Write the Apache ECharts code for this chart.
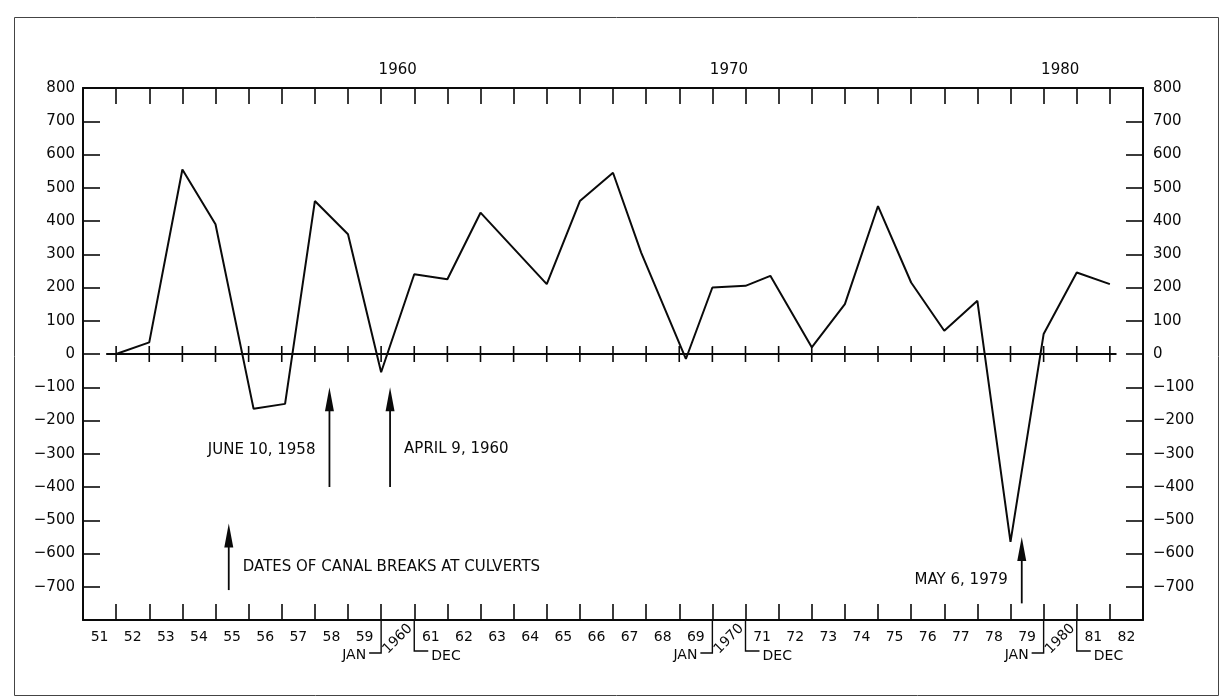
<!DOCTYPE html>
<html><head><meta charset="utf-8">
<script src="https://cdn.jsdelivr.net/npm/echarts@6/dist/echarts.min.js"></script>
<style>html,body{margin:0;padding:0;background:#fff}#c{width:1221px;height:700px}</style>
</head><body><div id="c"></div>
<script>
// ---- data ----
const yearLabels = ['51','52','53','54','55','56','57','58','59','1960','61','62','63','64','65','66','67','68','69','1970','71','72','73','74','75','76','77','78','79','1980','81','82'];
const pointYears = [1952, 1953, 1954, 1955, 1956.15, 1957.1, 1958, 1959, 1960, 1961, 1962, 1963, 1965, 1966, 1967, 1967.85, 1969.2, 1970, 1971, 1971.75, 1973, 1974, 1975, 1976, 1977, 1978, 1979, 1980, 1981, 1982];
const pointValues = [0, 35, 555, 390, -165, -150, 460, 360, -55, 240, 225, 425, 210, 460, 545, 305, -15, 200, 205, 235, 20, 150, 445, 215, 70, 160, -565, 60, 245, 210];
const zeroTickYears = [1952,1953,1954,1955,1956,1957,1958,1959,1960,1961,1962,1963,1964,1965,1966,1967,1968,1969,1970,1971,1972,1973,1974,1975,1976,1977,1978,1979,1980,1981,1982];
const zeroLineSpan = [1951.7, 1982.2];
const arrowDates = [1955.4, 1958.44, 1960.27, 1979.34];
const arrowBase = [-710, -400, -400, -750];
const arrowTip = [-510, -100, -100, -550];
const noteTexts = ['DATES OF CANAL BREAKS AT CULVERTS', 'JUNE 10, 1958', 'APRIL 9, 1960', 'MAY 6, 1979'];
const noteValues = [-640, -290, -285, -680];
const noteSides = ['right', 'left', 'right', 'left'];
const decadeYears = [1960, 1970, 1980];
const bracketLabels = ['JAN', 'DEC'];

const INK = '#0a0a0a';
const FONT = 'DejaVu Sans';
const chart = echarts.init(document.getElementById('c'), null, {renderer: 'canvas'});

const lineData = pointYears.map((y, i) => [y, pointValues[i]]);
const isDecade = s => s.length === 4;

const valueX = (pos) => ({
  type: 'value', position: pos, min: 1951, max: 1983, interval: 1,
  axisLine: {show: true, onZero: false, lineStyle: {color: INK, width: 2}},
  axisTick: {show: true, inside: true, length: 16, lineStyle: {color: INK, width: 1.6}},
  axisLabel: {show: false}, splitLine: {show: false}
});
const catX = (pos, fmt, size, margin) => ({
  type: 'category', position: pos, data: yearLabels, boundaryGap: true,
  axisLine: {show: false, onZero: false}, axisTick: {show: false},
  axisLabel: {show: true, interval: 0, formatter: fmt, color: INK, fontFamily: FONT, fontSize: size, margin: margin},
  splitLine: {show: false}
});
const valueY = (pos, margin) => ({
  type: 'value', position: pos, min: -800, max: 800, interval: 100,
  axisLine: {show: true, onZero: false, lineStyle: {color: INK, width: 2}},
  axisTick: {show: true, inside: true, length: 17, lineStyle: {color: INK, width: 1.6}},
  axisLabel: {show: true, color: INK, fontFamily: FONT, fontSize: 15, margin: margin,
    formatter: v => v === -800 ? '' : (v < 0 ? '\u2212' + Math.abs(v) : String(v))},
  splitLine: {show: false}
});

const option = {
  animation: false,
  backgroundColor: '#fff',
  grid: {left: 83, right: 78, top: 88, bottom: 80, containLabel: false},
  graphic: [{type: 'rect', left: 12, top: 15, shape: {width: 1204, height: 678},
    style: {fill: 'none', stroke: '#444', lineWidth: 1}}],
  xAxis: [
    valueX('bottom'),
    valueX('top'),
    catX('bottom', s => isDecade(s) ? '' : s, 14, 10),
    catX('top', s => isDecade(s) ? s : '', 15, 10)
  ],
  yAxis: [valueY('left', 8), valueY('right', 10)],
  series: [
    {type: 'line', xAxisIndex: 0, yAxisIndex: 0, data: lineData, symbol: 'none',
     lineStyle: {color: INK, width: 2}, z: 5},
    {type: 'line', xAxisIndex: 0, yAxisIndex: 0, data: zeroLineSpan.map(x => [x, 0]), symbol: 'none',
     lineStyle: {color: INK, width: 1.8}, z: 4},
    {type: 'custom', xAxisIndex: 0, yAxisIndex: 0, clip: false, encode: {x: 0, y: 1},
     data: zeroTickYears.map(x => [x, 0]),
     renderItem: (params, api) => {
       const p = api.coord([api.value(0), 0]);
       return {type: 'line', shape: {x1: p[0], y1: p[1] - 8, x2: p[0], y2: p[1] + 8},
         style: {stroke: INK, lineWidth: 1.6}};
     }},
    {type: 'custom', xAxisIndex: 0, yAxisIndex: 0, clip: false, encode: {x: 0, y: [1, 2]},
     data: arrowDates.map((d, i) => [d, arrowBase[i], arrowTip[i], noteValues[i], i]),
     renderItem: (params, api) => {
       const i = api.value(4);
       const b = api.coord([api.value(0), api.value(1)]);
       const t = api.coord([api.value(0), api.value(2)]);
       const n = api.coord([api.value(0), api.value(3)]);
       const head = 24, hw = 4.5;
       const right = noteSides[i] === 'right';
       return {type: 'group', children: [
         {type: 'line', shape: {x1: b[0], y1: b[1], x2: t[0], y2: t[1] + head - 2}, style: {stroke: INK, lineWidth: 1.8}},
         {type: 'polygon', shape: {points: [[t[0], t[1]], [t[0] - hw, t[1] + head], [t[0] + hw, t[1] + head]]}, style: {fill: INK}},
         {type: 'text', x: n[0] + (right ? 14 : -14), y: n[1],
          style: {text: noteTexts[i], align: right ? 'left' : 'right', verticalAlign: 'middle',
            font: '15px "DejaVu Sans"', fill: INK}}
       ]};
     }},
    {type: 'custom', xAxisIndex: 0, yAxisIndex: 0, clip: false, encode: {x: 0, y: 1},
     data: decadeYears.map(y => [y, -800]),
     renderItem: (params, api) => {
       const yr = api.value(0);
       const a = api.coord([yr, -800]);
       const b = api.coord([yr + 1, -800]);
       const m = api.coord([yr + 0.5, -800]);
       const y0 = a[1];
       const ls = {stroke: INK, lineWidth: 1.4, fill: 'none'};
       return {type: 'group', children: [
         {type: 'polyline', shape: {points: [[a[0], y0], [a[0], y0 + 33], [a[0] - 12, y0 + 33]]}, style: ls},
         {type: 'text', x: a[0] - 15, y: y0 + 35, style: {text: bracketLabels[0], align: 'right', verticalAlign: 'middle', font: '14px "DejaVu Sans"', fill: INK}},
         {type: 'polyline', shape: {points: [[b[0], y0], [b[0], y0 + 31], [b[0] + 14, y0 + 31]]}, style: ls},
         {type: 'text', x: b[0] + 17, y: y0 + 36, style: {text: bracketLabels[1], align: 'left', verticalAlign: 'middle', font: '14px "DejaVu Sans"', fill: INK}},
         {type: 'text', x: m[0], y: y0 + 19, rotation: Math.PI / 4,
          style: {text: String(yr), align: 'center', verticalAlign: 'middle', font: '14px "DejaVu Sans"', fill: INK}}
       ]};
     }}
  ]
};
chart.setOption(option);
</script>
</body></html>
